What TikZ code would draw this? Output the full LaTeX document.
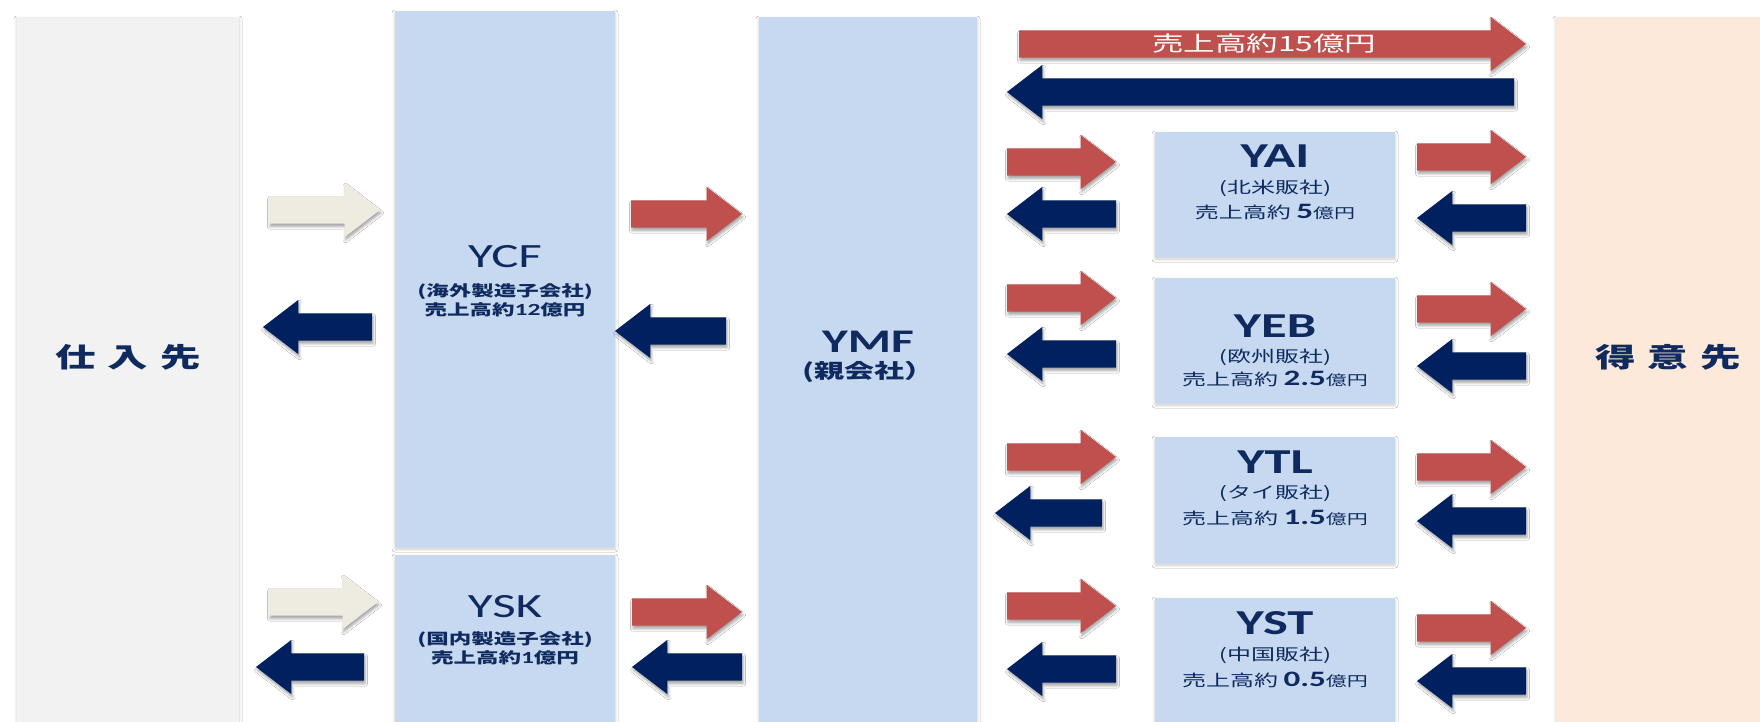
\documentclass[tikz,border=0pt]{standalone}
\usepackage{fontspec}
\usepackage{graphicx}
\setmainfont{Carlito}
\newfontfamily\lat{Carlito}
\newfontfamily\jp{Noto Sans CJK JP}
\usetikzlibrary{shapes.arrows,shadows.blur}
\definecolor{arred}{HTML}{C0504D}
\definecolor{arnavy}{HTML}{002060}
\definecolor{arcream}{HTML}{EEECE1}
\definecolor{boxblue}{HTML}{C6D9F1}
\definecolor{supgray}{HTML}{F2F2F2}
\definecolor{custpeach}{HTML}{FDE9D9}
\definecolor{txtnavy}{HTML}{0F2A5E}
\newcommand{\sx}[1]{\scalebox{1.5}[1]{#1}}
\begin{document}
\begin{tikzpicture}[x=1pt,y=-1pt,
  bx/.style={inner sep=0pt, outer sep=0pt, draw=none, blur shadow={shadow xshift=0pt, shadow yshift=-2pt, shadow blur radius=3pt, shadow opacity=20}},
  blk/.style={single arrow, single arrow head extend=13.5pt, single arrow tip angle=75, inner xsep=0pt, inner ysep=13.5pt, outer sep=0pt, draw=none, anchor=tail, blur shadow={shadow xshift=1pt, shadow yshift=-3pt, shadow blur radius=2.5pt, shadow opacity=35}},
  goR/.style={blk, minimum height=#1},
  goL/.style={blk, minimum height=#1, shape border rotate=180},
  lbl/.style={text=txtnavy, inner sep=0pt},
  big/.style={lbl, font=\jp\bfseries\fontsize{27}{27}\selectfont},
  nm/.style={lbl, font=\lat\fontsize{34}{34}\selectfont},
  nmb/.style={lbl, font=\lat\bfseries\fontsize{33}{33}\selectfont},
  nmc/.style={lbl, font=\lat\bfseries\fontsize{35}{35}\selectfont},
  sm/.style={lbl, font=\jp\bfseries\fontsize{15}{15}\selectfont},
  ssm/.style={lbl, font=\jp\fontsize{16}{16}\selectfont}
]
\useasboundingbox (0,0) rectangle (1760,722);
\fill[white] (0,0) rectangle (1760,722);

% boxes
\node[bx, fill=supgray, minimum width=222pt, minimum height=705pt] (sup) at (128,369.5) {};
\node[bx, fill=boxblue, minimum width=220pt, minimum height=536pt] (ycf) at (505,279) {};
\node[bx, fill=boxblue, minimum width=220pt, minimum height=167pt] (ysk) at (505,638.5) {};
\node[bx, fill=boxblue, minimum width=218pt, minimum height=705pt] (ymf) at (868,369.5) {};
\node[bx, fill=custpeach, minimum width=204pt, minimum height=705pt] (cust) at (1658,369.5) {};
\node[bx, fill=boxblue, minimum width=240pt, minimum height=125pt] (yai) at (1275,194.5) {};
\node[bx, fill=boxblue, minimum width=240pt, minimum height=125pt] (yeb) at (1275,340.5) {};
\node[bx, fill=boxblue, minimum width=240pt, minimum height=126pt] (ytl) at (1275,500) {};
\node[bx, fill=boxblue, minimum width=240pt, minimum height=124pt] (yst) at (1275,660) {};

% arrows left (placed by tail)
\node[goR=111pt, fill=arcream] (a1) at (269,210) {};
\node[goL=109pt, fill=arnavy] (a2) at (372,327) {};
\node[goR=109pt, fill=arcream] (a3) at (269,602) {};
\node[goL=108pt, fill=arnavy] (a4) at (364,667) {};
% arrows middle
\node[goR=111pt, fill=arred] (a5) at (631,214) {};
\node[goL=111pt, fill=arnavy] (a6) at (726,331) {};
\node[goR=110pt, fill=arred] (a7) at (632,612) {};
\node[goL=110pt, fill=arnavy] (a8) at (742,667) {};
% big top arrows
\node[goR=507pt, fill=arred] (a9) at (1019,44) {};
\node[goL=507pt, fill=arnavy] (a10) at (1514,92) {};
% row arrows
\node[goR=109pt, fill=arred] (b1) at (1007,162) {};
\node[goL=109pt, fill=arnavy] (b2) at (1116,214) {};
\node[goR=109pt, fill=arred] (c1) at (1417,157) {};
\node[goL=109pt, fill=arnavy] (c2) at (1526,218) {};
\node[goR=109pt, fill=arred] (b3) at (1007,298) {};
\node[goL=109pt, fill=arnavy] (b4) at (1116,354) {};
\node[goR=109pt, fill=arred] (c3) at (1417,309) {};
\node[goL=109pt, fill=arnavy] (c4) at (1526,366) {};
\node[goR=109pt, fill=arred] (b5) at (1007,457) {};
\node[goL=107pt, fill=arnavy] (b6) at (1102,513) {};
\node[goR=109pt, fill=arred] (c5) at (1417,467) {};
\node[goL=109pt, fill=arnavy] (c6) at (1526,521) {};
\node[goR=109pt, fill=arred] (b7) at (1007,606) {};
\node[goL=109pt, fill=arnavy] (b8) at (1116,669) {};
\node[goR=109pt, fill=arred] (c7) at (1417,628) {};
\node[goL=109pt, fill=arnavy] (c8) at (1526,681) {};

% texts
\node[big] (supt) at (128,357) {\sx{仕\hspace{8pt}入\hspace{8pt}先}};
\node[big] (custt) at (1668,357) {\sx{得\hspace{8pt}意\hspace{8pt}先}};
\node[text=white, inner sep=0pt, font=\jp\fontsize{21}{21}\selectfont] (toplbl) at (1264,44) {\sx{売上高約15億円}};

\node[nm] (ycft) at (505,257) {\sx{YCF}};
\node[sm] (ycfa) at (505,292) {\sx{(海外製造子会社)}};
\node[sm] (ycfb) at (505,310) {\sx{売上高約{\lat\bfseries\fontsize{17}{17}\selectfont 12}億円}};

\node[nm] (yskt) at (505,607) {\sx{YSK}};
\node[sm] (yska) at (505,640) {\sx{(国内製造子会社)}};
\node[sm] (yskb) at (505,658) {\sx{売上高約{\lat\bfseries\fontsize{17}{17}\selectfont 1}億円}};

\node[nmb] (ymft) at (868,342) {\sx{YMF}};
\node[lbl, font=\jp\bfseries\fontsize{20}{20}\selectfont] (ymfa) at (868,372) {\sx{(親会社）}};

\node[nmc] (yait) at (1275,156) {\sx{YAI}};
\node[ssm] (yaia) at (1275,188) {\sx{(北米販社)}};
\node[ssm] (yaib) at (1275,212) {\sx{売上高約\ {\lat\bfseries\fontsize{22}{22}\selectfont 5}{\fontsize{14}{14}\selectfont 億円}}};

\node[nmc] (yebt) at (1275,326) {\sx{YEB}};
\node[ssm] (yeba) at (1275,357) {\sx{(欧州販社)}};
\node[ssm] (yebb) at (1275,379) {\sx{売上高約\ {\lat\bfseries\fontsize{22}{22}\selectfont 2.5}{\fontsize{14}{14}\selectfont 億円}}};

\node[nmc] (ytlt) at (1275,462) {\sx{YTL}};
\node[ssm] (ytla) at (1275,493) {\sx{(タイ販社)}};
\node[ssm] (ytlb) at (1275,518) {\sx{売上高約\ {\lat\bfseries\fontsize{22}{22}\selectfont 1.5}{\fontsize{14}{14}\selectfont 億円}}};

\node[nmc] (ystt) at (1275,623) {\sx{YST}};
\node[ssm] (ysta) at (1275,655) {\sx{(中国販社)}};
\node[ssm] (ystb) at (1275,680) {\sx{売上高約\ {\lat\bfseries\fontsize{22}{22}\selectfont 0.5}{\fontsize{14}{14}\selectfont 億円}}};
\end{tikzpicture}
\end{document}
